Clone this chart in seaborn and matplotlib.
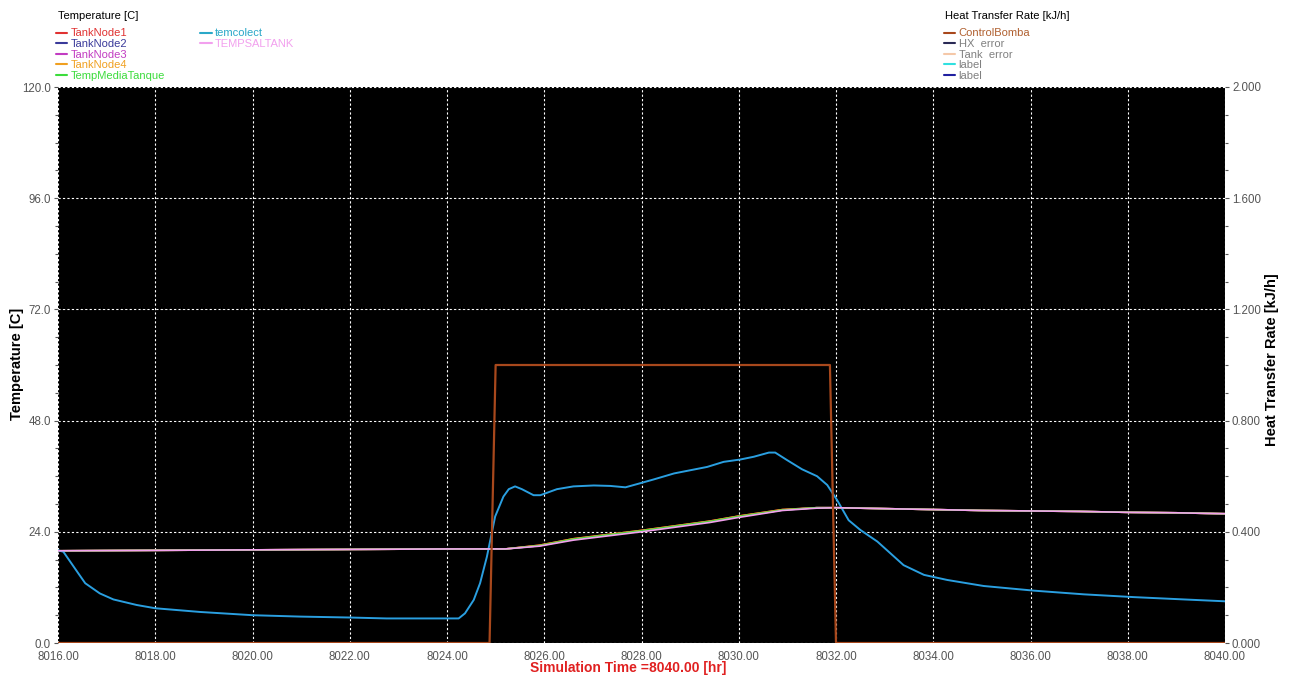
import seaborn as sns
import pandas as pd
import matplotlib
matplotlib.use("Agg")
from matplotlib import pyplot as plt
from matplotlib.lines import Line2D
import matplotlib.ticker as mtick

# collector outlet temperature (temcolect)
col_time = [8016.0, 8016.11, 8016.42, 8016.56, 8016.86, 8017.14, 8017.62, 8018.0, 8018.92,
            8020.0, 8020.98, 8022.0, 8022.76, 8024.24, 8024.37, 8024.55, 8024.68, 8024.82,
            8024.92, 8024.99, 8025.16, 8025.27, 8025.40, 8025.54, 8025.78, 8025.92, 8026.26,
            8026.60, 8027.02, 8027.36, 8027.67, 8027.98, 8028.25, 8028.67, 8029.35, 8029.69,
            8030.03, 8030.31, 8030.62, 8030.75, 8030.99, 8031.30, 8031.61, 8031.82, 8032.02,
            8032.26, 8032.50, 8032.85, 8033.39, 8033.81, 8034.29, 8035.04, 8036.07, 8037.10,
            8038.13, 8039.16, 8040.0]
col_temp = [20.0, 19.7, 15.0, 12.9, 10.7, 9.4, 8.2, 7.5, 6.7,
            6.0, 5.7, 5.5, 5.3, 5.3, 6.4, 9.3, 12.9, 18.6,
            23.7, 27.3, 31.6, 33.2, 33.8, 33.2, 31.9, 31.9, 33.2,
            33.8, 34.0, 33.9, 33.6, 34.5, 35.3, 36.6, 38.0, 39.1,
            39.6, 40.2, 41.1, 41.1, 39.5, 37.5, 36.0, 34.1, 30.9,
            26.5, 24.4, 21.9, 16.8, 14.7, 13.6, 12.3, 11.3, 10.5,
            9.9, 9.4, 9.0]

# storage tank temperatures
tank_time = [8016, 8018, 8020, 8022, 8024, 8025.2, 8025.9, 8026.6, 8027.3, 8028.0, 8028.7,
             8029.4, 8030.0, 8030.9, 8031.6, 8032.0, 8033, 8034, 8035, 8036, 8037, 8038,
             8039, 8040]
node1 = [19.9, 20.0, 20.1, 20.2, 20.3, 20.3, 21.1, 22.5, 23.4, 24.3, 25.3, 26.3, 27.4, 28.8,
         29.2, 29.2, 29.0, 28.8, 28.6, 28.5, 28.4, 28.2, 28.1, 27.9]
node2 = [19.9, 20.0, 20.1, 20.2, 20.3, 20.3, 21.0, 22.4, 23.3, 24.2, 25.2, 26.2, 27.3, 28.7,
         29.2, 29.2, 29.0, 28.8, 28.6, 28.5, 28.4, 28.2, 28.1, 27.9]
node3 = [19.9, 20.0, 20.1, 20.2, 20.3, 20.3, 21.0, 22.4, 23.3, 24.2, 25.2, 26.2, 27.3, 28.7,
         29.2, 29.2, 29.0, 28.8, 28.6, 28.5, 28.4, 28.2, 28.1, 27.9]
node4 = [19.9, 20.0, 20.1, 20.2, 20.3, 20.3, 21.1, 22.5, 23.4, 24.3, 25.3, 26.3, 27.4, 28.8,
         29.2, 29.2, 29.0, 28.8, 28.6, 28.5, 28.4, 28.2, 28.1, 27.9]
tank_mean = [19.9, 20.0, 20.1, 20.2, 20.3, 20.3, 21.0, 22.4, 23.3, 24.2, 25.2, 26.2, 27.3, 28.7,
             29.2, 29.2, 29.0, 28.8, 28.6, 28.5, 28.4, 28.2, 28.1, 27.9]
tank_out = [19.9, 20.0, 20.1, 20.2, 20.3, 20.3, 20.9, 22.2, 23.1, 24.0, 25.0, 26.0, 27.1, 28.6,
            29.1, 29.2, 29.0, 28.8, 28.6, 28.5, 28.4, 28.2, 28.1, 27.9]

# pump control signal (right axis)
pump_time = [8016.0, 8024.875, 8025.0, 8031.875, 8032.0, 8040.0]
pump_val = [0, 0, 1, 1, 0, 0]

temp_series = [("TankNode1", node1, "#e03232"),
               ("TankNode2", node2, "#3a3a9a"),
               ("TankNode3", node3, "#c23cc2"),
               ("TankNode4", node4, "#f0a020"),
               ("TempMediaTanque", tank_mean, "#3cdc3c"),
               ("TEMPSALTANK", tank_out, "#f2a0ee")]

sns.set_style("white")
plt.rcParams["font.family"] = ["Liberation Sans", "DejaVu Sans"]

W, H = 1291, 677
fig = plt.figure(figsize=(12.91, 6.77), dpi=100)
ax = fig.add_axes([58 / W, 1 - 643 / H, (1225 - 58) / W, (643 - 87) / H])
ax.set_facecolor("black")
ax2 = ax.twinx()

for name, vals, c in temp_series[:5]:
    sns.lineplot(x=tank_time, y=vals, color=c, lw=1.2, ax=ax)
sns.lineplot(x=col_time, y=col_temp, color="#2a9fe0", lw=1.4, ax=ax)
sns.lineplot(x=tank_time, y=tank_out, color="#f2a0ee", lw=1.2, ax=ax)
sns.lineplot(x=pump_time, y=pump_val, color="#a8481c", lw=1.6, ax=ax2)

ax.set_xlim(8016, 8040)
ax.set_ylim(0, 120)
ax2.set_ylim(0, 2)
ax.xaxis.set_major_locator(mtick.MultipleLocator(2))
ax.xaxis.set_minor_locator(mtick.MultipleLocator(0.5))
ax.yaxis.set_major_locator(mtick.MultipleLocator(24))
ax.yaxis.set_minor_locator(mtick.MultipleLocator(6))
ax2.yaxis.set_major_locator(mtick.MultipleLocator(0.4))
ax2.yaxis.set_minor_locator(mtick.MultipleLocator(0.1))
ax.xaxis.set_major_formatter(mtick.FormatStrFormatter("%.2f"))
ax.yaxis.set_major_formatter(mtick.FormatStrFormatter("%.1f"))
ax2.yaxis.set_major_formatter(mtick.FormatStrFormatter("%.3f"))

ax.grid(True, which="major", color="white", ls=(0, (2, 2)), lw=0.8)
for a in (ax, ax2):
    a.tick_params(which="both", direction="out", colors="#555555", labelsize=8.3,
                  length=3, width=0.8, pad=2)
    a.tick_params(which="minor", length=2)
    for s in a.spines.values():
        s.set_visible(False)
ax.tick_params(axis="x", which="major", length=0, pad=6)
ax.tick_params(axis="y", which="major", length=3)
ax.set_xlabel("")
ax.set_ylabel("")
ax2.set_ylabel("")

# axis titles placed as in the reference
fig.text(628 / W, 1 - 668 / H, "Simulation Time =8040.00 [hr]", color="#e02020",
         fontweight="bold", fontsize=10, ha="center", va="center")
fig.text(17 / W, 1 - 364 / H, "Temperature [C]", fontweight="bold", fontsize=10.5,
         rotation=90, ha="center", va="center", color="black")
fig.text(1272 / W, 1 - 360 / H, "Heat Transfer Rate [kJ/h]", fontweight="bold",
         fontsize=10.5, rotation=90, ha="center", va="center", color="black")

# left legend
fig.text(58 / W, 1 - 16 / H, "Temperature [C]", fontsize=8, va="center", ha="left",
         color="black")
handles = [Line2D([], [], color=c, lw=1.5) for _, _, c in temp_series[:5]]
labels = [n for n, _, _ in temp_series[:5]]
handles += [Line2D([], [], color="#2aa8c8", lw=1.5), Line2D([], [], color="#f2a0ee", lw=1.5)]
labels += ["temcolect", "TEMPSALTANK"]
handles += [Line2D([], [], alpha=0)] * 3
labels += [""] * 3
leg = fig.legend(handles, labels, loc="upper left", bbox_to_anchor=(0.040, 1 - 24 / H),
                 ncol=2, frameon=False, fontsize=8, labelcolor="linecolor",
                 handlelength=1.0, handletextpad=0.3, labelspacing=0.05,
                 columnspacing=3.2, borderaxespad=0)

# right legend
fig.text(945 / W, 1 - 16 / H, "Heat Transfer Rate [kJ/h]", fontsize=8, va="center",
         ha="left", color="black")
r_items = [("ControlBomba", "#a8481c", "#b06030"), ("HX  error", "#2a2a55", "#808080"),
           ("Tank  error", "#f5c8a8", "#808080"), ("label", "#30e0e0", "#808080"),
           ("label", "#2020a0", "#808080")]
rh = [Line2D([], [], color=lc, lw=1.5) for _, lc, _ in r_items]
leg2 = fig.legend(rh, [n for n, _, _ in r_items], loc="upper left",
                  bbox_to_anchor=(0.728, 1 - 24 / H), frameon=False, fontsize=8,
                  labelcolor=[tc for _, _, tc in r_items],
                  handlelength=1.0, handletextpad=0.3, labelspacing=0.05,
                  borderaxespad=0)

fig.savefig("out.png", dpi=100, facecolor="white")
